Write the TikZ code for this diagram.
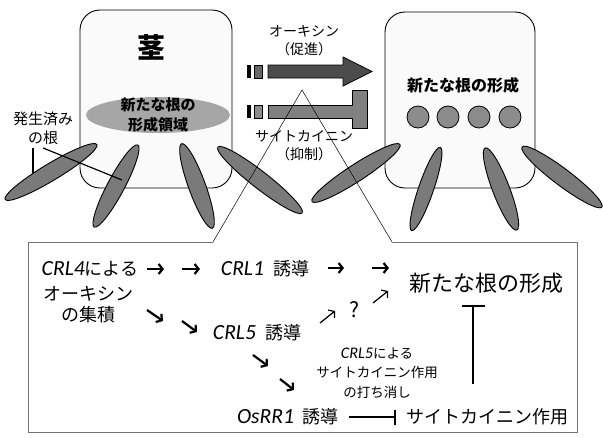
\documentclass[tikz,border=0pt]{standalone}
\usepackage{fontspec}
\setmainfont{Noto Sans CJK JP}
\newfontfamily\latinit[Scale=1.2]{Carlito}
\usepackage{tikz}
\usetikzlibrary{arrows.meta,shapes.geometric}
\newcommand{\gene}[1]{{\latinit\itshape #1}}

\begin{document}
\begin{tikzpicture}[x=1pt,y=-1pt,>={Straight Barb[length=4pt,width=10pt]},
  stem/.style={draw,line width=0.9pt,rounded corners=20pt,fill=black!2},
  root/.style={ellipse,draw,line width=0.9pt,fill=black!52,minimum height=17pt,inner sep=0pt},
  bud/.style={circle,draw,line width=0.8pt,fill=black!45,minimum size=22pt,inner sep=0pt},
  txt/.style={font=\fontsize{18}{21}\selectfont,inner sep=2pt,align=center},
  small/.style={font=\fontsize{13.5}{19.5}\selectfont,inner sep=0pt,align=center},
  go/.style={->,line width=2.2pt},
  maybe/.style={->,line width=1.2pt},
  block/.style={-{Bar[width=#1,line width=2pt]},line width=2pt},
  block/.default=15pt]

  \useasboundingbox (0,0) rectangle (603,437);

  \draw[stem] (80,10) rectangle (232,188);
  \draw[stem] (385,12) rectangle (535,188);

  \node[ellipse,fill=black!35,minimum width=144pt,minimum height=36pt] (zone) at (158,115) {};
  \node[font=\fontsize{15}{20}\selectfont\bfseries,align=center] (zonelbl) at (zone) {新たな根の\\形成領域};
  \node[font=\fontsize{28}{30}\selectfont\bfseries] (stem) at (151,47) {茎};
  \node[font=\fontsize{16}{20}\selectfont\bfseries] (newroot) at (463,85) {新たな根の形成};
  \foreach \x [count=\i] in {418,448,479,510}
    \node[bud] (b\i) at (\x,117) {};

  \node[root,minimum width=107pt,rotate=31] (r1) at (51,172) {};
  \node[root,minimum width=93pt,rotate=62] (r2) at (116,186) {};
  \node[root,minimum width=90pt,rotate=110] (r3) at (197,186) {};
  \node[root,minimum width=107pt,rotate=-38] (r4) at (260,180) {};
  \node[root,minimum width=105pt,rotate=33] (r5) at (356,173) {};
  \node[root,minimum width=88pt,minimum height=15pt,rotate=71] (r6) at (426,189) {};
  \node[root,minimum width=88pt,rotate=111] (r7) at (501,189) {};
  \node[root,minimum width=100pt,rotate=-37] (r8) at (562,177) {};

  \node[font=\fontsize{15}{19}\selectfont,align=center] (old) at (43,128) {発生済み\\の根};
  \coordinate (p1) at (33,173);
  \coordinate (p2) at (122,180);
  \draw[line width=1.2pt] ([xshift=-10pt]old.south) -- (p1);
  \draw[line width=1.2pt] (old.south) -- (p2);

  % auxin / cytokinin signals
  \foreach \y/\c in {65/black!60,105/black!45} {
    \fill (247,\y) rectangle (251,\y+13);
    \draw[fill=\c,line width=0.6pt] (254,\y) rectangle (262,\y+13);
  }
  \draw[fill=black!70,line width=0.8pt] (268,65) -- (343,65) -- (343,57) -- (372,71.5)
    -- (343,86) -- (343,78) -- (268,78) -- cycle;
  \draw[fill=black!50,line width=0.8pt] (268,105) -- (352,105) -- (352,90) -- (367,90)
    -- (367,128) -- (352,128) -- (352,118) -- (268,118) -- cycle;
  \node[font=\fontsize{14}{18}\selectfont,align=center] (aux) at (304,41) {オーキシン\\（促進）};
  \node[font=\fontsize{14}{18}\selectfont,align=center] (cyt) at (304,146) {サイトカイニン\\（抑制）};

  % close-up box
  \draw[black!55,line width=1pt] (213,242) -- (28,242) -- (28,432) -- (577,432) -- (577,242) -- (392,242);
  \draw[line width=0.5pt] (213,242) -- (302,90) -- (392,242);

  \node[txt] (crl4) at (90,269) {\gene{CRL4}による};
  \node[txt] (acc) at (88,305) {オーキシン\\の集積};
  \node[txt] (crl1) at (265,269) {\gene{CRL1}\enspace 誘導};
  \node[txt] (crl5) at (257,333) {\gene{CRL5}\enspace 誘導};
  \node[txt] (osrr) at (288,417) {\gene{OsRR1}\enspace 誘導};
  \node[txt] (cka) at (487,417) {サイトカイニン作用};
  \node[font=\fontsize{22}{26}\selectfont] (nr) at (486,283) {新たな根の形成};
  \node[small] (undo) at (377,373) {\gene{CRL5}による\\サイトカイニン作用\\の打ち消し};
  \node[font=\fontsize{21}{22}\selectfont] (q) at (354,310) {?};

  \foreach \sx/\sy/\ex/\ey [count=\i] in {147/269/164/269, 182/269/200/269,
      328/268/344/268, 372/268/389/268, 147/310/163/321, 182/321/197/332,
      253/355/268/366, 280/379/294/390} {
    \coordinate (s\i) at (\sx,\sy);
    \coordinate (e\i) at (\ex,\ey);
    \draw[go] (s\i) -- (e\i);
  }
  \coordinate (u1) at (320,323);
  \coordinate (v1) at (335,311);
  \coordinate (u2) at (373,303);
  \coordinate (v2) at (388,291);
  \draw[maybe] (u1) -- (v1);
  \draw[maybe] (u2) -- (v2);

  \draw[block,shorten <=8pt,shorten >=8pt] (osrr) -- (cka);
  \draw[block=23pt,shorten <=23pt,shorten >=8pt] ([xshift=-14pt]cka.north) -- ([xshift=-14pt]cka.north |- nr.south);
\end{tikzpicture}
\end{document}
